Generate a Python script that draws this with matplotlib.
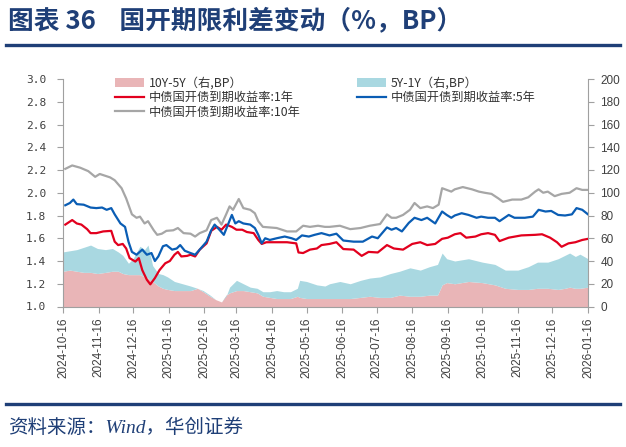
import matplotlib
matplotlib.use('Agg')
import matplotlib.pyplot as plt
from matplotlib.patches import Patch
from matplotlib.lines import Line2D
import numpy as np
import pandas as pd

# data, days counted from 2024-10-16
start = pd.Timestamp('2024-10-16')

days_1y = [2, 8, 12, 16, 21, 24, 29, 35, 42, 45, 48, 52, 55, 58, 63, 66, 69, 73, 76, 80,
           84, 89, 93, 97, 100, 103, 108, 111, 115, 119, 125, 129, 134, 138, 142, 147, 151, 156, 160, 166,
           170, 173, 177, 186, 195, 203, 205, 209, 215, 221, 225, 232, 238, 244, 253, 260, 266, 274, 282, 288,
           296, 304, 311, 317, 324, 330, 335, 341, 346, 351, 359, 364, 370, 376, 380, 388, 399, 411, 417, 424,
           430, 434, 440, 446, 452, 457]
yield_1y = [1.72, 1.76, 1.73, 1.72, 1.68, 1.645, 1.645, 1.66, 1.665, 1.57, 1.54, 1.55, 1.51, 1.425, 1.395, 1.425, 1.32, 1.235, 1.195, 1.25,
            1.32, 1.38, 1.40, 1.455, 1.48, 1.44, 1.445, 1.455, 1.44, 1.50, 1.555, 1.665, 1.70, 1.675, 1.72, 1.70, 1.675, 1.675, 1.655, 1.645,
            1.585, 1.55, 1.565, 1.565, 1.565, 1.555, 1.475, 1.47, 1.50, 1.51, 1.54, 1.55, 1.565, 1.505, 1.50, 1.445, 1.48, 1.475, 1.54, 1.51,
            1.50, 1.55, 1.565, 1.54, 1.55, 1.595, 1.605, 1.635, 1.645, 1.605, 1.615, 1.635, 1.645, 1.63, 1.575, 1.605, 1.625, 1.63, 1.635, 1.605,
            1.565, 1.525, 1.555, 1.565, 1.585, 1.595]

days_5y = [2, 6, 9, 12, 18, 24, 29, 34, 38, 42, 45, 50, 54, 57, 60, 64, 69, 73, 77, 80,
           83, 87, 90, 95, 99, 102, 106, 111, 115, 119, 125, 129, 132, 137, 140, 144, 147, 150, 153, 157,
           163, 167, 170, 173, 176, 180, 186, 193, 199, 203, 208, 214, 219, 225, 232, 238, 244, 253, 261, 269,
           274, 282, 286, 290, 295, 301, 306, 312, 317, 324, 330, 334, 338, 341, 347, 353, 360, 364, 370, 376,
           380, 388, 393, 402, 409, 414, 420, 425, 431, 437, 443, 447, 452, 457]
yield_5y = [1.89, 1.91, 1.94, 1.90, 1.895, 1.87, 1.865, 1.87, 1.85, 1.865, 1.81, 1.73, 1.70, 1.57, 1.48, 1.455, 1.50, 1.455, 1.47, 1.40,
            1.44, 1.53, 1.54, 1.50, 1.51, 1.54, 1.49, 1.47, 1.455, 1.50, 1.57, 1.67, 1.72, 1.665, 1.63, 1.73, 1.805, 1.73, 1.75, 1.73,
            1.72, 1.69, 1.63, 1.555, 1.60, 1.585, 1.60, 1.615, 1.60, 1.585, 1.625, 1.615, 1.63, 1.645, 1.625, 1.64, 1.58, 1.57, 1.57, 1.615,
            1.60, 1.695, 1.675, 1.69, 1.66, 1.735, 1.78, 1.76, 1.78, 1.73, 1.835, 1.805, 1.78, 1.80, 1.82, 1.805, 1.78, 1.79, 1.78, 1.78,
            1.75, 1.805, 1.78, 1.78, 1.79, 1.85, 1.835, 1.84, 1.805, 1.80, 1.81, 1.865, 1.85, 1.81]

days_10y = [2, 8, 15, 22, 28, 32, 41, 45, 51, 55, 60, 64, 67, 71, 74, 79, 82, 86, 90, 96,
            100, 105, 111, 115, 119, 125, 129, 134, 138, 142, 145, 148, 153, 157, 163, 167, 170, 174, 180, 186,
            195, 203, 209, 215, 222, 228, 232, 241, 250, 259, 267, 276, 282, 286, 290, 296, 302, 306, 311, 317,
            322, 327, 330, 334, 338, 341, 348, 356, 362, 367, 373, 379, 383, 391, 399, 405, 411, 414, 418, 422,
            428, 434, 441, 447, 452, 457]
yield_10y = [2.21, 2.24, 2.22, 2.19, 2.14, 2.165, 2.135, 2.11, 2.04, 1.95, 1.81, 1.78, 1.79, 1.73, 1.75, 1.67, 1.63, 1.64, 1.665, 1.67,
             1.69, 1.645, 1.64, 1.615, 1.645, 1.67, 1.76, 1.78, 1.72, 1.81, 1.88, 1.85, 1.945, 1.865, 1.85, 1.82, 1.75, 1.70, 1.695, 1.69,
             1.66, 1.66, 1.71, 1.70, 1.71, 1.70, 1.70, 1.71, 1.68, 1.69, 1.71, 1.725, 1.81, 1.78, 1.78, 1.805, 1.85, 1.91, 1.865, 1.88,
             1.865, 1.895, 2.04, 2.025, 2.01, 2.03, 2.05, 2.03, 2.01, 2.00, 1.99, 1.95, 1.92, 1.94, 1.94, 1.96, 2.01, 2.03, 2.00, 2.01,
             1.97, 1.99, 2.00, 2.04, 2.025, 2.025]

days_spread = [0, 6, 12, 18, 24, 30, 37, 43, 48, 52, 57, 61, 67, 71, 74, 78, 83, 87, 91, 97,
               104, 111, 117, 122, 128, 133, 138, 142, 145, 151, 157, 163, 169, 174, 180, 186, 192, 198, 204, 206,
               212, 221, 228, 232, 241, 250, 259, 267, 276, 285, 293, 302, 311, 319, 326, 330, 334, 341, 353, 365,
               376, 385, 396, 405, 413, 422, 431, 437, 441, 446, 450, 457]
spread_10y_5y = [31, 32, 31, 30, 30, 29, 30, 31, 31, 29, 28, 28, 28, 26, 25, 22, 18, 16, 15, 14,
                 14, 14, 16, 13, 9, 6, 4, 10, 12, 14, 14, 13, 12, 9, 8, 7, 7, 7, 9, 8,
                 7, 7, 7, 7, 7, 7, 8, 9, 8, 8, 10, 9, 9, 10, 10, 19, 21, 20, 22, 21,
                 19, 16, 15, 15, 16, 16, 15, 16, 17, 16, 16, 17]
spread_5y_1y = [17, 17, 19, 22, 24, 22, 20, 20, 17, 16, 10, 14, 25, 24, 29, 14, 11, 12, 11, 8,
                6, 4, 0, 1, 1, 0, 0, -1, 5, 9, 6, 4, 4, 4, 5, 7, 6, 6, 7, 15,
                15, 12, 11, 13, 15, 13, 15, 16, 18, 21, 21, 25, 23, 25, 27, 28, 21, 20, 20, 18,
                18, 16, 17, 20, 23, 23, 27, 29, 30, 28, 30, 25]

tick_dates = ['2024-10-16', '2024-11-16', '2024-12-16', '2025-01-16', '2025-02-16', '2025-03-16',
              '2025-04-16', '2025-05-16', '2025-06-16', '2025-07-16', '2025-08-16', '2025-09-16',
              '2025-10-16', '2025-11-16', '2025-12-16', '2026-01-16']

def to_dates(days):
    return start + pd.to_timedelta(days, unit='D')

navy = '#1F3F77'
c_pink = '#E9B5B7'
c_lblue = '#A9D8E1'
c_red = '#E2001E'
c_blue = '#0A5DB4'
c_gray = '#A6A6A6'
spine_c = '#A0A0A0'

fig = plt.figure(figsize=(6.26, 4.47), dpi=100)
ax = fig.add_axes([63/626, 1 - 306.5/447, 525/626, 227.5/447])
ax2 = ax.twinx()
ax.set_zorder(2)
ax2.set_zorder(1)
ax.patch.set_visible(False)

# areas on right axis
d_sp = to_dates(days_spread)
s1 = np.array(spread_10y_5y, dtype=float)
s2 = np.array(spread_5y_1y, dtype=float)
ax2.fill_between(d_sp, 0, s1, color=c_pink, lw=0)
ax2.fill_between(d_sp, s1, s1 + s2, color=c_lblue, lw=0)

# lines on left axis
ax.plot(to_dates(days_1y), yield_1y, color=c_red, lw=1.6)
ax.plot(to_dates(days_5y), yield_5y, color=c_blue, lw=1.6)
ax.plot(to_dates(days_10y), yield_10y, color=c_gray, lw=1.6)

ax.set_xlim(pd.Timestamp(tick_dates[0]), pd.Timestamp(tick_dates[-1]))
ax.set_ylim(1.0, 3.0)
ax2.set_ylim(0, 200)
ax.set_yticks(np.arange(1.0, 3.01, 0.2))
ax.set_yticklabels(['%.1f' % v for v in np.arange(1.0, 3.01, 0.2)],
                   fontfamily='DejaVu Sans Mono', fontsize=8)
ax2.set_yticks(range(0, 201, 20))
ax2.set_yticklabels([str(v) for v in range(0, 201, 20)], fontfamily='Liberation Sans', fontsize=8.5)
ax.set_xticks(pd.to_datetime(tick_dates))
ax.set_xticklabels(tick_dates, rotation=90, fontfamily='Liberation Sans', fontsize=8.5)

for a in (ax, ax2):
    for s in a.spines.values():
        s.set_color(spine_c)
        s.set_linewidth(0.8)
    a.spines['top'].set_visible(False)
ax.spines['right'].set_visible(False)
ax2.spines['left'].set_visible(False)
ax2.spines['bottom'].set_visible(False)
ax.tick_params(axis='y', length=4, width=0.8, color=spine_c, labelcolor='#404040', pad=8)
ax.tick_params(axis='x', length=4, width=0.8, color=spine_c, labelcolor='#404040', pad=4)
ax2.tick_params(axis='y', length=4, width=0.8, color=spine_c, labelcolor='#404040', pad=5)

handles = [Patch(facecolor=c_pink, edgecolor='none'),
           Line2D([], [], color=c_red, lw=1.6),
           Line2D([], [], color=c_gray, lw=1.6),
           Patch(facecolor=c_lblue, edgecolor='none'),
           Line2D([], [], color=c_blue, lw=1.6)]
labels = ['10Y-5Y（右,BP）', '中债国开债到期收益率:1年', '中债国开债到期收益率:10年',
          '5Y-1Y（右,BP）', '中债国开债到期收益率:5年']
leg = ax.legend(handles, labels, ncol=2, loc='upper left',
                bbox_to_anchor=((115 - 63) / 525, 1 + 2 / 227.5),
                frameon=False, borderpad=0, borderaxespad=0, handlelength=2.4,
                handletextpad=0.35, columnspacing=4.6, labelspacing=0.1,
                prop={'family': 'Noto Sans CJK SC', 'size': 8.8})
for t in leg.get_texts():
    t.set_color('#333333')

# title, rules, source
fig.text(8/626, 1 - 21/447, '图表 36    国开期限利差变动（%，BP）', fontsize=18.5, fontweight='bold',
         color=navy, family='Noto Sans CJK SC', va='center', ha='left')
fig.add_artist(Line2D([6/626, 620/626], [1 - 45/447, 1 - 45/447], color=navy, lw=2.4))
fig.add_artist(Line2D([6/626, 620/626], [1 - 404/447, 1 - 404/447], color=navy, lw=2.4))
fig.text(8/626, 1 - 428/447, '资料来源：Wind，华创证券', fontsize=14, style='italic',
         color=navy, family=['Liberation Serif', 'Noto Sans CJK SC'], va='center', ha='left')

fig.savefig('out.png', dpi=100)
